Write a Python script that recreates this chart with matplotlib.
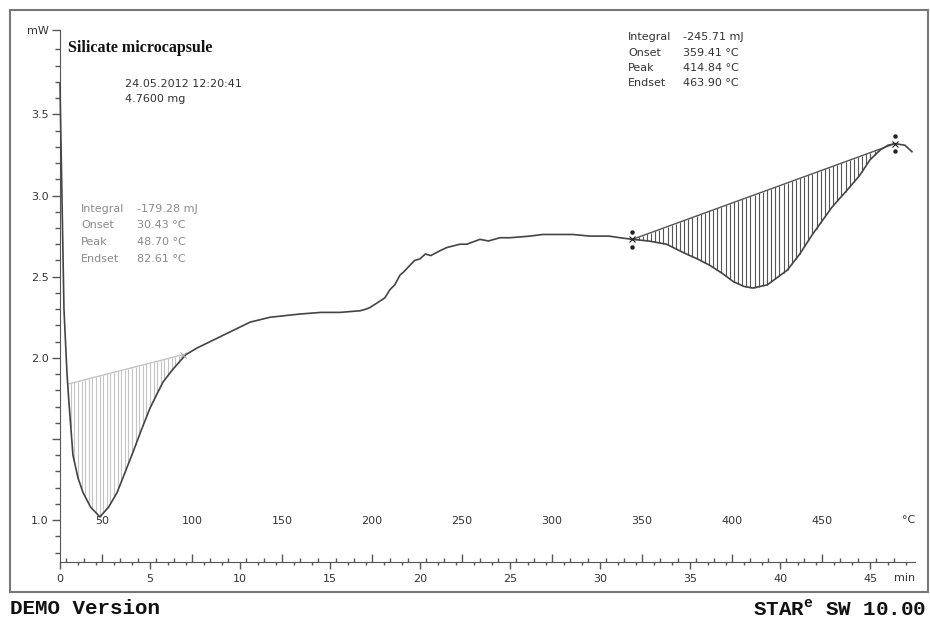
import numpy as np
import matplotlib
matplotlib.use("Agg")
import matplotlib.pyplot as plt
from matplotlib.patches import Rectangle

# DSC curve: time (min) vs heat flow (mW)
time_min = [0.0, 0.05, 0.11, 0.22, 0.39, 0.5, 0.72, 1.0, 1.28, 1.7, 2.22, 2.7,
            3.17, 3.6, 4.06, 4.5, 5.0, 5.4, 5.72, 6.2, 6.67, 7.0, 7.6, 8.9,
            10.56, 11.67, 13.33,
            14.5, 15.56, 16.67, 17.0, 17.22, 17.5, 17.78, 18.05, 18.33, 18.6,
            18.89, 19.1, 19.44, 19.7, 20.0, 20.3, 20.6, 21.11, 21.5, 22.22, 22.6,
            23.33, 23.8, 24.44, 25.0, 26.11, 26.8, 27.78, 28.5, 29.44, 30.5,
            31.11, 31.8, 32.7, 33.7, 34.6, 35.4, 36.1, 36.8, 37.4, 38.0, 38.5,
            39.3, 40.4, 41.1, 41.8, 42.9, 43.7, 44.4, 45.0, 45.56, 46.0, 46.39,
            46.94, 47.33]
heat_flow = [3.69, 3.35, 2.99, 2.30, 1.90, 1.72, 1.40, 1.26, 1.17, 1.08, 1.02, 1.08,
             1.17, 1.29, 1.42, 1.55, 1.69, 1.78, 1.85, 1.92, 1.98, 2.02, 2.06, 2.13,
             2.22, 2.25, 2.27,
             2.28, 2.28, 2.29, 2.30, 2.31, 2.33, 2.35, 2.37, 2.42, 2.45,
             2.51, 2.53, 2.57, 2.60, 2.61, 2.64, 2.63, 2.66, 2.68, 2.70, 2.70,
             2.73, 2.72, 2.74, 2.74, 2.75, 2.76, 2.76, 2.76, 2.75, 2.75,
             2.74, 2.73, 2.72, 2.70, 2.65, 2.61, 2.57, 2.52, 2.47, 2.44, 2.43,
             2.45, 2.54, 2.64, 2.76, 2.93, 3.03, 3.12, 3.22, 3.28, 3.31, 3.32,
             3.31, 3.27]

# integration baselines (start / end points)
peak1_base_t = [0.5, 6.85]
peak1_base_v = [1.84, 2.02]
peak2_base_t = [31.8, 46.39]
peak2_base_v = [2.73, 3.32]

peak1_text = ["Integral", "Onset", "Peak", "Endset"]
peak1_vals = ["-179.28 mJ", "30.43 °C", "48.70 °C", "82.61 °C"]
peak2_vals = ["-245.71 mJ", "359.41 °C", "414.84 °C", "463.90 °C"]

y_ticks = [1.0, 1.5, 2.0, 2.5, 3.0, 3.5, 4.02]
y_labels = ["1.0", "", "2.0", "2.5", "3.0", "3.5", "mW"]
time_ticks = [0, 5, 10, 15, 20, 25, 30, 35, 40, 45]
temp_ticks = [50, 100, 150, 200, 250, 300, 350, 400, 450]
T0 = 26.7   # temperature at t = 0
RATE = 10.0  # K/min

W, H = 930, 623
fig = plt.figure(figsize=(W / 100, H / 100), dpi=100)

def fx(px):
    return px / W

def fy(py):
    return 1 - py / H

ax = fig.add_axes([fx(60), fy(562), fx(915) - fx(60), fy(30) - fy(562)])
ax.set_xlim(0, 47.5)
ax.set_ylim(0.742, 4.02)

curve_col = "#444444"
ax.plot(time_min, heat_flow, color=curve_col, lw=1.2, clip_on=False, zorder=3)

# hatched integral areas
def hatch(bt, bv, step, col, lw):
    ts = np.arange(bt[0] + step / 2, bt[1], step)
    top = np.interp(ts, bt, bv)
    bot = np.interp(ts, time_min, heat_flow)
    ax.vlines(ts, bot, np.maximum(top, bot), colors=col, lw=lw, zorder=2)
    ax.plot(bt, bv, color=col, lw=1.0, zorder=2)

hatch(peak1_base_t, peak1_base_v, 0.2, "#c4c4c4", 0.8)
hatch(peak2_base_t, peak2_base_v, 0.23, "#555555", 0.8)

# limit markers
for t, v in zip(peak2_base_t, peak2_base_v):
    ax.plot([t, t], [v + 0.045, v - 0.045], ls="none", marker="o", ms=2.2,
            color="#222222", zorder=4)
    ax.plot([t], [v], marker="x", ms=4, color="#222222", mew=0.8, zorder=4)
ax.plot([peak1_base_t[1]], [peak1_base_v[1]], marker="x", ms=4, color="#aaaaaa",
        mew=0.8, zorder=4)

# axes styling
for s in ["top", "right"]:
    ax.spines[s].set_visible(False)
ax.spines["left"].set_color("#555555")
ax.spines["bottom"].set_color("#555555")
ax.set_yticks(y_ticks)
ax.set_yticklabels(y_labels)
ax.set_yticks(np.arange(0.8, 4.0, 0.1), minor=True)
ax.tick_params(axis="y", which="major", length=6, width=1, color="#555555",
               labelsize=8, labelcolor="#333333", pad=2)
ax.tick_params(axis="y", which="minor", length=3.5, width=1, color="#555555")

ax.set_xticks(time_ticks)
ax.set_xticklabels([str(t) for t in time_ticks])
ax.set_xticks(np.arange(0, 48, 1), minor=True)
ax.tick_params(axis="x", which="major", direction="out", length=5, width=1,
               color="#555555", labelsize=8, labelcolor="#333333", pad=4)
ax.tick_params(axis="x", which="minor", direction="out", length=2.5, width=1,
               color="#555555")

sec = ax.secondary_xaxis(0, functions=(lambda t: T0 + RATE * t,
                                       lambda T: (T - T0) / RATE))
sec.set_xticks(temp_ticks)
sec.set_xticklabels([str(t) for t in temp_ticks])
sec.set_xticks(np.arange(30, 500, 10), minor=True)
sec.spines["bottom"].set_visible(False)
sec.tick_params(axis="x", which="major", direction="in", length=6, width=1,
                color="#555555", labelsize=8, labelcolor="#333333", pad=-33)
sec.tick_params(axis="x", which="minor", direction="in", length=3, width=1,
                color="#555555")

ax.text(1.0, 0.079, "°C", transform=ax.transAxes, ha="right", va="center",
        fontsize=8, color="#333333")
ax.text(1.0, -0.031, "min", transform=ax.transAxes, ha="right", va="center",
        fontsize=8, color="#333333")

# annotations
fig.text(fx(68), fy(48), "Silicate microcapsule", fontsize=11.5, fontweight="bold",
         family="Liberation Serif", va="center", color="#111111")
fig.text(fx(125), fy(84), "24.05.2012 12:20:41", fontsize=8, va="center",
         color="#333333")
fig.text(fx(125), fy(99), "4.7600 mg", fontsize=8, va="center", color="#333333")

for i, (k, v) in enumerate(zip(peak1_text, peak1_vals)):
    fig.text(fx(81), fy(209 + 16.5 * i), k, fontsize=8, va="center", color="#8a8a8a")
    fig.text(fx(137), fy(209 + 16.5 * i), v, fontsize=8, va="center", color="#8a8a8a")
for i, (k, v) in enumerate(zip(peak1_text, peak2_vals)):
    fig.text(fx(628), fy(37 + 15.5 * i), k, fontsize=8, va="center", color="#333333")
    fig.text(fx(683), fy(37 + 15.5 * i), v, fontsize=8, va="center", color="#333333")

# outer frame and footer
fig.patches.append(Rectangle((fx(10), fy(592)), fx(928) - fx(10), fy(10) - fy(592),
                             transform=fig.transFigure, fill=False,
                             edgecolor="#777777", lw=1.5))
fig.text(fx(10), fy(609), "DEMO Version", family="Liberation Mono",
         fontweight="bold", fontsize=15, va="center", color="#111111")
fig.text(fx(926), fy(609), r"STAR$^\mathregular{e}$ SW 10.00", family="Liberation Mono",
         fontweight="bold", fontsize=15, va="center", ha="right", color="#111111")

fig.savefig("out.png", dpi=100)
